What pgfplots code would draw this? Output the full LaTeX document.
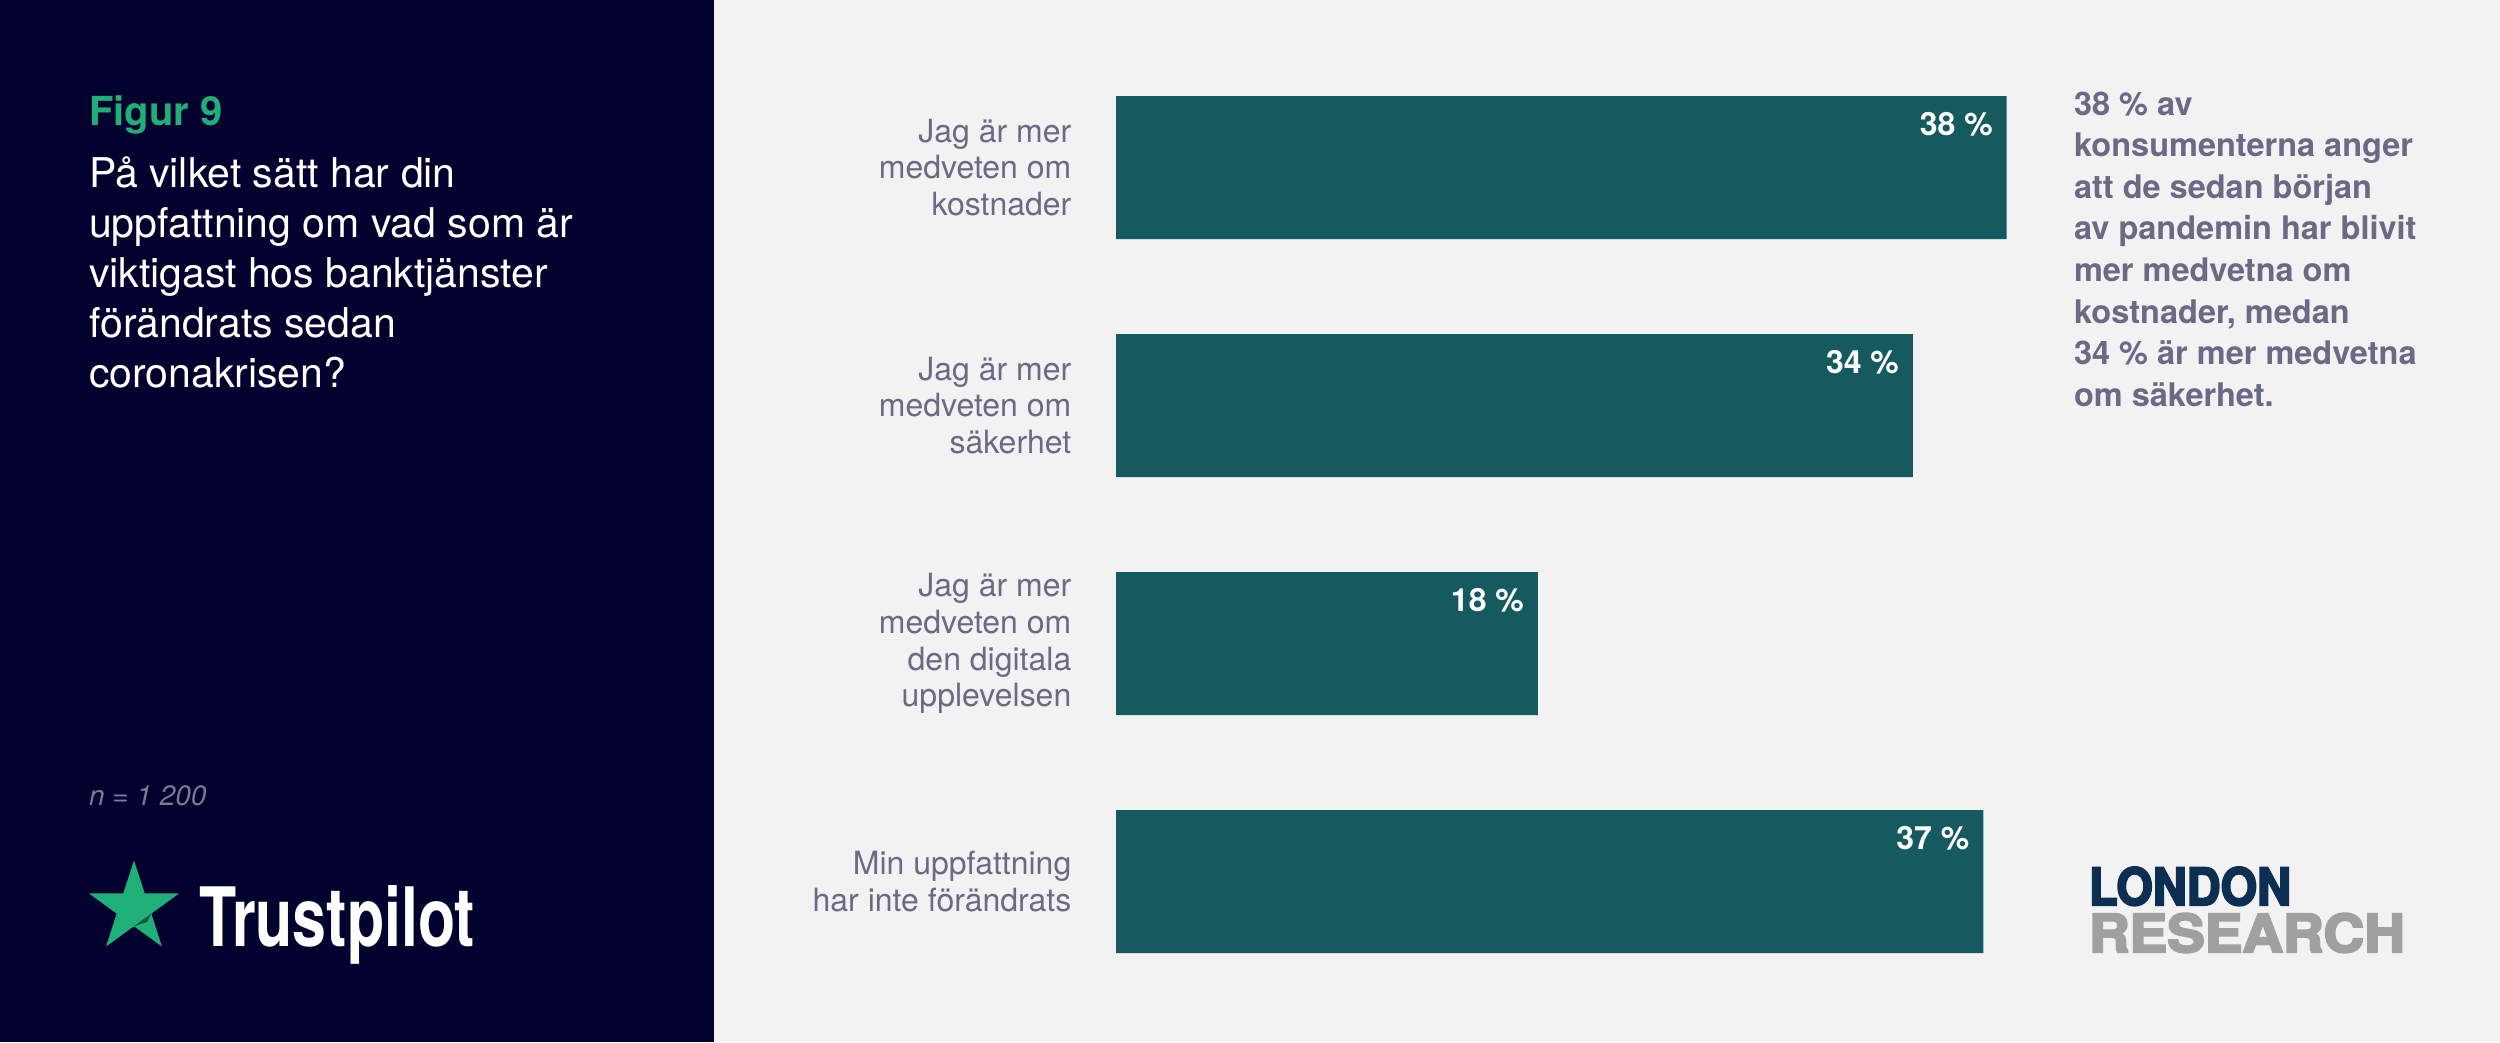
\documentclass[border=0pt]{standalone}
\usepackage{pgfplots}
\pgfplotsset{compat=1.18}
\usepackage{fontspec}
\setmainfont{TeX Gyre Heros}
\newfontfamily\heavyfont{TeX Gyre Heros}[BoldFeatures={FakeBold=4}]
\definecolor{navy}{HTML}{03022F}
\definecolor{bgc}{HTML}{F2F2F2}
\definecolor{barc}{HTML}{145A5F}
\definecolor{lbl}{HTML}{6B6A85}
\definecolor{note}{HTML}{6A6A87}
\definecolor{tpgreen}{HTML}{1FB07A}
\definecolor{tpdark}{HTML}{0A5A3A}
\definecolor{ngray}{HTML}{7A7A96}
\definecolor{lrnavy}{HTML}{0B2F52}
\definecolor{lrgray}{HTML}{A0A0A0}
\begin{document}
\begin{tikzpicture}[x=0.3pt,y=0.3pt,every node/.style={inner sep=0pt,outer sep=0pt}]
\fill[bgc] (0,0) rectangle (2500,1042);
\fill[navy] (0,0) rectangle (714,1042);
% left panel
\node[anchor=base west,text=tpgreen,font=\fontsize{12pt}{14pt}\selectfont\bfseries] at (89,917) {Figur 9};
\foreach \t [count=\i from 0] in {På vilket sätt har din,uppfattning om vad som är,viktigast hos banktjänster,förändrats sedan,coronakrisen?}
  \node[anchor=base west,text=white,font=\fontsize{12.3pt}{15pt}\selectfont] at (89,{855-50*\i}) {\t};
\node[anchor=base west,text=ngray,font=\fontsize{8.4pt}{10pt}\selectfont\itshape] at (89,237) {n = 1 200};
% Trustpilot star
\begin{scope}[shift={(134,134)}]
\fill[tpgreen] (90:47.5) -- (126:18.2) -- (162:47.5) -- (198:18.2) -- (234:47.5) -- (270:18.2) -- (306:47.5) -- (342:18.2) -- (18:47.5) -- (54:18.2) -- cycle;
\fill[tpdark] (0,-18.2) -- (17.3,-5.6) -- (13,-14) -- cycle;
\end{scope}
\node[anchor=base west,text=white] at (199,96) {\resizebox{82.8pt}{18.3pt}{\bfseries Trustpilot}};
% right annotation
\foreach \t [count=\i from 0] in {38 \% av,konsumenterna anger,att de sedan början,av pandemin har blivit,mer medvetna om,{kostnader, medan},34 \% är mer medvetna,om säkerhet.}
  \node[anchor=base west,text=note,font=\fontsize{9.75pt}{12pt}\selectfont\bfseries] at (2074,{927-41.6*\i}) {\t};
% London Research logo
\node[anchor=base west,text=lrnavy] at (2089,137) {\resizebox{60.6pt}{11.4pt}{\heavyfont\bfseries LONDON}};
\node[anchor=base west,text=lrgray] at (2089,90) {\resizebox{94.8pt}{11.6pt}{\heavyfont\bfseries RESEARCH}};
% chart
\begin{axis}[
  at={(475.44pt,155.25pt)}, anchor=center,
  scale only axis, width=281.28pt, height=285.6pt,
  xmin=0, xmax=40, ymin=-0.5, ymax=3.5, y dir=reverse,
  xbar, bar width=42.9pt,
  hide x axis,
  y axis line style={draw=none},
  ytick={0,1,2,3},
  yticklabels={{Jag är mer\\medveten om\\kostnader},{Jag är mer\\medveten om\\säkerhet},{Jag är mer\\medveten om\\den digitala\\upplevelsen},{Min uppfattning\\har inte förändrats}},
  ytick style={draw=none}, major tick length=0pt,
  yticklabel style={align=right,text=lbl,font=\fontsize{9.6pt}{11pt}\selectfont,inner sep=0pt,xshift=-13.4pt},
  point meta=x,
  nodes near coords={\pgfmathprintnumber[assume math mode=true]{\pgfplotspointmeta}~\%},
  nodes near coords style={anchor=base east,xshift=-4.2pt,yshift=9.7pt,text=white,font=\fontsize{9.6pt}{11pt}\selectfont\bfseries},
  clip=false,
]
\addplot[fill=barc,draw=none] coordinates {(38,0) (34,1) (18,2) (37,3)};
\end{axis}
\pgfresetboundingbox
\useasboundingbox (0,0) rectangle (2500,1042);
\end{tikzpicture}
\end{document}
